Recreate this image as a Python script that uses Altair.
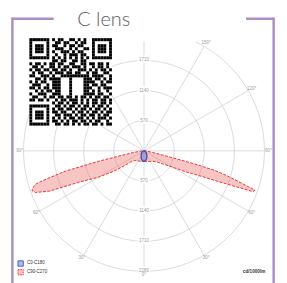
import altair as alt
import numpy as np
import pandas as pd

# ---------------- data ----------------
title_text = "C lens"
ring_values = [570, 1140, 1710, 2280]
angle_labels = [0, 30, 60, 90, 120, 150]
legend_labels = ["C0-C180", "C90-C270"]
unit_label = "cd/1000lm"

gamma_c0 = [0, 10, 20, 30, 40, 50, 60, 70, 80, 90]
cd_c0 = [202, 186, 149, 110, 78, 54, 36, 22, 11, 0]
gamma_c180 = [0, 10, 20, 30, 40, 50, 60, 70, 80, 90]
cd_c180 = [202, 186, 149, 110, 78, 54, 36, 22, 11, 0]

gamma_c90 = [0, 10, 20, 30, 40, 45, 50, 55, 60, 63, 66, 67.5, 68.5, 69.5, 70.5,
             71.5, 72.5, 73.5, 74.5, 75.5, 76.5, 78, 80, 85, 90]
cd_c90 = [200, 205, 215, 230, 260, 285, 330, 430, 610, 850, 1180, 1500, 1800, 2200, 2230,
          1980, 1780, 1600, 1400, 1000, 550, 250, 120, 50, 20]
gamma_c270 = [0, 10, 20, 30, 40, 45, 50, 53, 56, 60, 64, 67, 69, 70.5, 72, 73, 74,
              75.5, 77, 78, 80, 85, 90]
cd_c270 = [200, 205, 210, 220, 240, 260, 330, 480, 690, 1000, 1330, 1960, 2200, 2250, 2200,
           2135, 1900, 1540, 900, 530, 250, 80, 20]

qr_rows = [
    "1111111" "0" "1011001101010" "0" "1111111",
    "1000001" "0" "0110110010110" "0" "1000001",
    "1011101" "0" "1100101101100" "0" "1011101",
    "1011101" "0" "0111001010011" "0" "1011101",
    "1011101" "0" "1001110101100" "0" "1011101",
    "1000001" "0" "0100101110110" "0" "1000001",
    "1111111" "0" "1010101010101" "0" "1111111",
    "00000000" "1101100110110" "00000000",
    "10110101101100110011011011010",
    "01101001101011011101001011010",
    "10110110110110100111010101101",
    "01011001011101101100101100110",
    "11001110100111111111101111001",
    "00110101111000100001110110101",
    "10101100111000100001111001011",
    "01110010111000100001101101100",
    "11010110111000100001110010111",
    "00101011011000100001101010010",
    "10011100111000100001111011001",
    "01100101101101101011010110110",
    "11011010010110111010101101101",
    "00000000" "101101011010101101101",
    "1111111" "0" "011010110101101011010",
    "1000001" "0" "101101101011010110101",
    "1011101" "0" "110110010110101101011",
    "1011101" "0" "011011101011011010110",
    "1011101" "0" "101010110110101011101",
    "1000001" "0" "110101011011010110010",
    "1111111" "0" "011011010101101101011",
]

# ---------------- geometry / scales ----------------
W, H = 279, 275
CX, CY = 140.0, 143.0          # pole position inside the view (px)
PX_PER_CD = 31.0 / 570.0
xdom = [-CX / PX_PER_CD, (W - CX) / PX_PER_CD]
ydom = [-(H - CY) / PX_PER_CD, CY / PX_PER_CD]
xs = alt.Scale(domain=xdom, range=[0, W], nice=False, zero=False)
ys = alt.Scale(domain=ydom, range=[H, 0], nice=False, zero=False)
top_limit = (CY - 31) / PX_PER_CD

GRID = "#d0d0d0"
LAB = "#9a9a9a"
FONT = "Liberation Sans"

# rings
ring_rows = []
for rv in ring_values:
    phi0 = np.degrees(np.arccos(top_limit / rv)) if rv > top_limit else 0.0
    for k, p in enumerate(np.linspace(phi0, 360 - phi0, 181)):
        ring_rows.append({"ring": rv, "k": k,
                          "x": rv * np.sin(np.radians(p)), "y": rv * np.cos(np.radians(p))})
rings = alt.Chart(pd.DataFrame(ring_rows)).mark_line(
    stroke=GRID, strokeWidth=0.8).encode(
    x=alt.X("x:Q", scale=xs, axis=None), y=alt.Y("y:Q", scale=ys, axis=None),
    detail="ring:N", order="k:Q")

# radial lines
rad_rows = []
for th in range(0, 360, 30):
    R = top_limit if th == 180 else max(ring_values)
    rad_rows.append({"x0": 0, "y0": 0, "x1": R * np.sin(np.radians(th)),
                     "y1": -R * np.cos(np.radians(th))})
radials = alt.Chart(pd.DataFrame(rad_rows)).mark_rule(
    stroke=GRID, strokeWidth=0.8).encode(
    x=alt.X("x0:Q", scale=xs, axis=None), y=alt.Y("y0:Q", scale=ys, axis=None),
    x2="x1:Q", y2="y1:Q")

# ring value labels on the vertical axis
rl_rows = [{"x": 0, "y": v, "t": str(v)} for v in ring_values if v < top_limit]
rl_rows += [{"x": 0, "y": -v, "t": str(v)} for v in ring_values]
rl_df = pd.DataFrame(rl_rows)
rl_halo = alt.Chart(rl_df).mark_text(
    fontSize=4.6, font=FONT, stroke="white", strokeWidth=3, color="white").encode(
    x=alt.X("x:Q", scale=xs, axis=None), y=alt.Y("y:Q", scale=ys, axis=None), text="t:N")
rl_text = alt.Chart(rl_df).mark_text(fontSize=4.6, font=FONT, color=LAB).encode(
    x=alt.X("x:Q", scale=xs, axis=None), y=alt.Y("y:Q", scale=ys, axis=None), text="t:N")

# angle labels
R_LAB = 128 / PX_PER_CD
al_rows = []
for a in angle_labels:
    sides = [1] if a == 0 else [1, -1]
    for s in sides:
        th = np.radians(a)
        al_rows.append({"x": s * R_LAB * np.sin(th), "y": -R_LAB * np.cos(th), "t": f"{a}°"})
ang_text = alt.Chart(pd.DataFrame(al_rows)).mark_text(
    fontSize=4.6, font=FONT, color=LAB).encode(
    x=alt.X("x:Q", scale=xs, axis=None), y=alt.Y("y:Q", scale=ys, axis=None), text="t:N")


def polygon(g_r, i_r, g_l, i_l):
    pts = []
    for g, i in zip(g_r, i_r):
        t = np.radians(g)
        pts.append((i * np.sin(t), -i * np.cos(t)))
    for g, i in reversed(list(zip(g_l, i_l))):
        t = np.radians(g)
        pts.append((-i * np.sin(t), -i * np.cos(t)))
    pts.append(pts[0])
    return pd.DataFrame({"k": range(len(pts)), "x": [p[0] for p in pts], "y": [p[1] for p in pts]})


red_df = polygon(gamma_c90, cd_c90, gamma_c270, cd_c270)
blue_df = polygon(gamma_c0, cd_c0, gamma_c180, cd_c180)

red = alt.Chart(red_df).mark_line(
    fill="#ee6e6e", fillOpacity=0.4, stroke="#e8312f", strokeWidth=1,
    strokeDash=[3, 1.5]).encode(
    x=alt.X("x:Q", scale=xs, axis=None), y=alt.Y("y:Q", scale=ys, axis=None), order="k:Q")
blue = alt.Chart(blue_df).mark_line(
    fill="#7a78cc", fillOpacity=0.5, stroke="#2d4fc4", strokeWidth=1.3).encode(
    x=alt.X("x:Q", scale=xs, axis=None), y=alt.Y("y:Q", scale=ys, axis=None), order="k:Q")

# QR code
N = 29
qr_cells = []
for r, row in enumerate(qr_rows):
    row = row.ljust(N, "0")[:N]
    for c, ch in enumerate(row):
        if ch == "1":
            qr_cells.append({"c": c, "c2": c + 1, "r": r, "r2": r + 1})
qx = alt.Scale(domain=[0, N], range=[22, 107], nice=False, zero=False)
qy = alt.Scale(domain=[0, N], range=[27, 117], nice=False, zero=False)
qr_bg = alt.Chart(pd.DataFrame({"c": [0], "c2": [N], "r": [0], "r2": [N]})).mark_rect(
    color="white").encode(
    x=alt.X("c:Q", scale=qx, axis=None), x2="c2:Q",
    y=alt.Y("r:Q", scale=qy, axis=None), y2="r2:Q")
qr = alt.Chart(pd.DataFrame(qr_cells)).mark_rect(color="black").encode(
    x=alt.X("c:Q", scale=qx, axis=None), x2="c2:Q",
    y=alt.Y("r:Q", scale=qy, axis=None), y2="r2:Q")

# frame lines (purple)
PURPLE = "#a98ec3"
frame_df = pd.DataFrame({"a": [0]})
frame = [
    alt.Chart(frame_df).mark_rule(color=PURPLE, strokeWidth=2.5).encode(
        x=alt.value(4.5), x2=alt.value(47), y=alt.value(7), y2=alt.value(7)),
    alt.Chart(frame_df).mark_rule(color=PURPLE, strokeWidth=2.5).encode(
        x=alt.value(4.5), x2=alt.value(4.5), y=alt.value(5.8), y2=alt.value(280)),
    alt.Chart(frame_df).mark_rule(color=PURPLE, strokeWidth=2.5).encode(
        x=alt.value(245), x2=alt.value(273.5), y=alt.value(7), y2=alt.value(7)),
    alt.Chart(frame_df).mark_rule(color=PURPLE, strokeWidth=2.5).encode(
        x=alt.value(273.5), x2=alt.value(273.5), y=alt.value(5.8), y2=alt.value(280)),
]

title = alt.Chart(pd.DataFrame({"t": [title_text]})).mark_text(
    font="Lato", fontWeight=300, fontSize=20.5, color="#5e5e5e",
    baseline="alphabetic").encode(
    x=alt.value(98.5), y=alt.value(14.8), text="t:N")

# legend
leg_df = pd.DataFrame({"t": legend_labels, "yy": [259, 268]})
leg_blue = alt.Chart(pd.DataFrame({"a": [0]})).mark_square(
    size=30, fill="#b9b8e6", stroke="#2d4fc4", strokeWidth=0.9, opacity=1).encode(
    x=alt.value(13), y=alt.value(259))
leg_red = alt.Chart(pd.DataFrame({"a": [0]})).mark_square(
    size=30, fill="#f6c3c3", stroke="#e8312f", strokeWidth=0.9, strokeDash=[1.5, 1],
    opacity=1).encode(x=alt.value(13), y=alt.value(268))
leg_text = alt.Chart(leg_df).mark_text(
    fontSize=4.6, font=FONT, color="#333333", align="left").encode(
    x=alt.value(19.5), y=alt.Y("yy:Q", scale=alt.Scale(domain=[0, H], range=[0, H]), axis=None),
    text="t:N")
unit = alt.Chart(pd.DataFrame({"t": [unit_label]})).mark_text(
    fontSize=4.8, font=FONT, fontWeight="bold", color="#333333", align="right").encode(
    x=alt.value(265), y=alt.value(268), text="t:N")

chart = alt.layer(
    rings, radials, rl_halo, rl_text, ang_text, red, blue, qr_bg, qr,
    *frame, title, leg_blue, leg_red, leg_text, unit
).resolve_scale(x="independent", y="independent").properties(
    width=W, height=H, autosize=alt.AutoSizeParams(type="none"), padding=0
).configure_view(stroke=None)

chart.save("out.html", embed_options={"renderer": "svg", "actions": False})
